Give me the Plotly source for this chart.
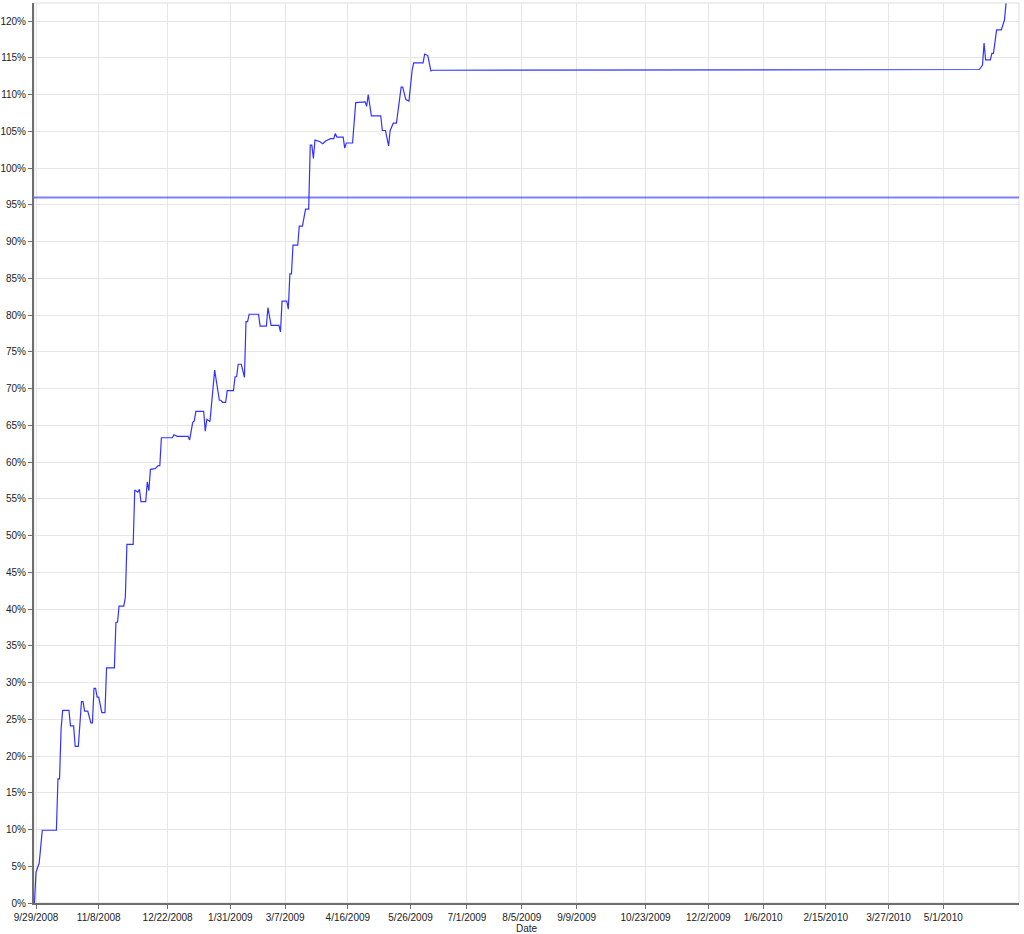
import plotly.graph_objects as go

# Equity curve (cumulative return, %)
dates = [
    "2008-09-28", "2008-09-29", "2008-10-01", "2008-10-03", "2008-10-12", "2008-10-13",
    "2008-10-14", "2008-10-15", "2008-10-16", "2008-10-20", "2008-10-21", "2008-10-23",
    "2008-10-24", "2008-10-26", "2008-10-28", "2008-10-29", "2008-10-30", "2008-11-01",
    "2008-11-03", "2008-11-04", "2008-11-05", "2008-11-06", "2008-11-07", "2008-11-08",
    "2008-11-10", "2008-11-12", "2008-11-13", "2008-11-18", "2008-11-19", "2008-11-20",
    "2008-11-21", "2008-11-24", "2008-11-25", "2008-11-26", "2008-11-30", "2008-12-01",
    "2008-12-03", "2008-12-04", "2008-12-05", "2008-12-08", "2008-12-09", "2008-12-10",
    "2008-12-11", "2008-12-14", "2008-12-16", "2008-12-17", "2008-12-18", "2008-12-25",
    "2008-12-26", "2008-12-28", "2009-01-04", "2009-01-05", "2009-01-07", "2009-01-08",
    "2009-01-09", "2009-01-14", "2009-01-15", "2009-01-16", "2009-01-18", "2009-01-21",
    "2009-01-24", "2009-01-25", "2009-01-26", "2009-01-28", "2009-01-29", "2009-02-02",
    "2009-02-03", "2009-02-04", "2009-02-05", "2009-02-07", "2009-02-09", "2009-02-10",
    "2009-02-11", "2009-02-12", "2009-02-18", "2009-02-19", "2009-02-23", "2009-02-24",
    "2009-02-26", "2009-03-03", "2009-03-04", "2009-03-05", "2009-03-08", "2009-03-09",
    "2009-03-10", "2009-03-11", "2009-03-12", "2009-03-15", "2009-03-16", "2009-03-18",
    "2009-03-20", "2009-03-22", "2009-03-23", "2009-03-24", "2009-03-25", "2009-03-26",
    "2009-03-29", "2009-03-31", "2009-04-02", "2009-04-05", "2009-04-07", "2009-04-08",
    "2009-04-09", "2009-04-13", "2009-04-14", "2009-04-15", "2009-04-19", "2009-04-21",
    "2009-04-27", "2009-04-28", "2009-04-29", "2009-04-30", "2009-05-01", "2009-05-07",
    "2009-05-08", "2009-05-10", "2009-05-12", "2009-05-13", "2009-05-15", "2009-05-17",
    "2009-05-19", "2009-05-20", "2009-05-21", "2009-05-23", "2009-05-25", "2009-05-27",
    "2009-05-28", "2009-06-03", "2009-06-04", "2009-06-06", "2009-06-08", "2009-06-09",
    "2010-05-24", "2010-05-26", "2010-05-27", "2010-05-28", "2010-05-31", "2010-06-01",
    "2010-06-02", "2010-06-04", "2010-06-07", "2010-06-09", "2010-06-10",
]
returns = [
    0.0, 4.2, 5.4, 9.9, 9.9, 16.9,
    16.9, 23.7, 26.2, 26.2, 24.1, 24.1,
    21.3, 21.3, 27.4, 27.4, 26.1, 26.1,
    24.5, 24.5, 29.2, 29.2, 28.0, 28.0,
    25.9, 25.9, 32.0, 32.0, 38.2, 38.2,
    40.4, 40.4, 41.6, 48.8, 48.8, 56.2,
    55.9, 56.3, 54.6, 54.6, 57.3, 56.1,
    59.0, 59.1, 59.5, 59.5, 63.3, 63.3,
    63.7, 63.5, 63.5, 63.0, 65.4, 65.6,
    66.9, 66.9, 64.2, 65.8, 65.5, 72.5,
    68.4, 68.4, 68.1, 68.1, 69.7, 69.7,
    71.6, 71.6, 73.3, 73.3, 71.5, 79.1,
    79.1, 80.1, 80.1, 78.5, 78.5, 81.0,
    78.6, 78.6, 77.7, 81.9, 81.9, 80.8,
    85.6, 85.6, 89.5, 89.5, 92.1, 92.1,
    94.4, 94.4, 103.1, 103.1, 101.3, 103.8,
    103.6, 103.3, 103.7, 104.0, 104.0, 104.7,
    104.2, 104.2, 102.7, 103.4, 103.4, 108.9,
    109.0, 108.4, 110.0, 108.3, 107.1, 107.1,
    105.1, 105.1, 103.0, 105.1, 106.1, 106.1,
    109.7, 111.0, 111.0, 109.3, 109.1, 113.3,
    114.3, 114.3, 115.5, 115.3, 113.2, 113.3,
    113.4, 114.0, 117.0, 114.7, 114.7, 115.6,
    115.6, 118.8, 118.8, 120.1, 122.4,
]

threshold = 96.0

tick_dates = [
    "2008-09-29", "2008-11-08", "2008-12-22", "2009-01-31", "2009-03-07", "2009-04-16",
    "2009-05-26", "2009-07-01", "2009-08-05", "2009-09-09", "2009-10-23", "2009-12-02",
    "2010-01-06", "2010-02-15", "2010-03-27", "2010-05-01",
]
tick_labels = [
    "9/29/2008", "11/8/2008", "12/22/2008", "1/31/2009", "3/7/2009", "4/16/2009",
    "5/26/2009", "7/1/2009", "8/5/2009", "9/9/2009", "10/23/2009", "12/2/2009",
    "1/6/2010", "2/15/2010", "3/27/2010", "5/1/2010",
]

x_range = ["2008-09-27 17:00", "2010-06-18 07:00"]
y_range = [0, 122.45]

fig = go.Figure()
fig.add_trace(go.Scatter(
    x=x_range, y=[threshold, threshold], mode="lines",
    line=dict(color="rgba(0,0,255,0.5)", width=2),
    hoverinfo="skip", showlegend=False,
))
fig.add_trace(go.Scatter(
    x=dates, y=returns, mode="lines",
    line=dict(color="#3333ff", width=1.2),
    showlegend=False,
))

font = dict(family="Liberation Sans, Arial, sans-serif", size=10, color="#222222")

fig.update_layout(
    width=1024, height=934, autosize=False,
    margin=dict(l=34, r=5, t=3, b=31, autoexpand=False),
    paper_bgcolor="white", plot_bgcolor="white",
    font=font,
    shapes=[dict(type="rect", xref="paper", yref="paper", x0=0, y0=0, x1=1, y1=1,
                 line=dict(color="#dddddd", width=1), layer="below")],
)
fig.update_xaxes(
    type="date", range=x_range, automargin=False,
    tickmode="array", tickvals=tick_dates, ticktext=tick_labels,
    showgrid=True, gridcolor="#e6e6e6", gridwidth=1,
    showline=True, linecolor="#6e6e6e", linewidth=2,
    ticks="outside", ticklen=4, tickcolor="#6e6e6e",
    title=dict(text="Date", font=dict(size=10, color="#222222"), standoff=3),
    zeroline=False,
)
fig.update_yaxes(
    range=y_range, dtick=5, ticksuffix="%", automargin=False,
    showgrid=True, gridcolor="#e6e6e6", gridwidth=1,
    showline=True, linecolor="#6e6e6e", linewidth=2,
    ticks="outside", ticklen=4, tickcolor="#6e6e6e",
    zeroline=False,
)

post = (
    "document.body.style.margin='0';"
    "document.body.style.padding='0';"
    "document.body.style.overflow='hidden';"
)
fig.write_html("out.html", config={"responsive": False, "displayModeBar": False},
               post_script=post)
